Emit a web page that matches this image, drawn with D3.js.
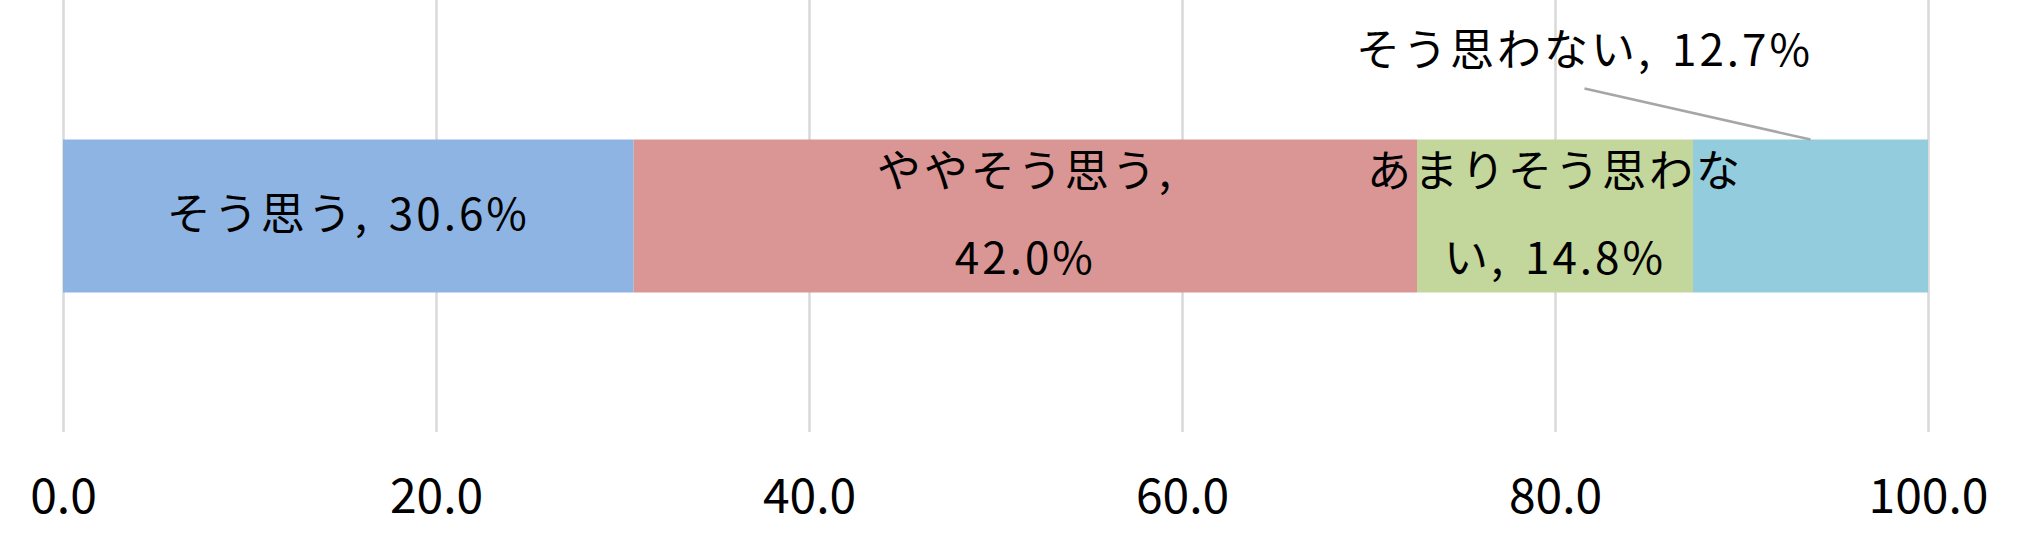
<!DOCTYPE html>
<html>
<head>
<meta charset="utf-8">
<script src="https://cdn.jsdelivr.net/npm/d3@7"></script>
<style>
  body { margin: 0; background: #fff; }
  .axis text { font-family: "Noto Sans CJK JP", "Noto Sans", sans-serif; font-size: 48px; fill: #000; }
  .axis .tick line { stroke: #d9d9d9; stroke-width: 2.5; }
  .label { font-family: "Noto Sans CJK JP", sans-serif; font-size: 44px; letter-spacing: 3px; word-spacing: 6px; fill: #000; }
</style>
</head>
<body>
<div id="chart"></div>
<script>
// **** THE DATA ****
const categories = ["そう思う", "ややそう思う", "あまりそう思わない", "そう思わない"]
const values = [30.6, 42.0, 14.8, 12.7]
const colors = ["#8eb4e3", "#d99694", "#c3d69b", "#93cddd"]
const xTicks = [0, 20, 40, 60, 80, 100]
// last slice is too thin, its label sits above the bar with a leader line
const placement = ["inside", "inside", "inside", "callout"]

// **** THE SETUP ****
const width = 2021
const height = 540
const plot = {left: 63, right: 1928, top: 0, bottom: 432}

const xScale = d3.scaleLinear()
    .domain([0, 100])
    .range([plot.left, plot.right])
    .clamp(true)

// one row, Excel style gap around the bar
const yScale = d3.scaleBand()
    .domain(["row"])
    .range([plot.top, plot.bottom])
    .padding(0.477)

// stack the values
let acc = 0
const segments = values.map((v, i) => {
  const s = {name: categories[i], value: v, x0: acc, x1: acc + v, color: colors[i], place: placement[i]}
  acc += v
  return s
})

const svg = d3.select("#chart").append("svg")
    .attr("width", width)
    .attr("height", height)

// --> GRID + X AXIS
svg.append("g")
    .attr("class", "x axis")
    .attr("transform", "translate(0," + plot.bottom + ")")
    .call(d3.axisBottom(xScale)
      .tickValues(xTicks)
      .tickSize(-(plot.bottom - plot.top))
      .tickPadding(47)
      .tickFormat(d3.format(".1f")))
    .call(g => g.select(".domain").remove())

// --> BARS
const barY = yScale("row")
const barH = yScale.bandwidth()

svg.selectAll(".seg")
    .data(segments)
  .enter().append("rect")
    .attr("class", "seg")
    .attr("x", d => xScale(d.x0))
    .attr("y", barY)
    .attr("width", d => xScale(d.x1) - xScale(d.x0))
    .attr("height", barH)
    .attr("fill", d => d.color)

// --> LABELS
const lineGap = 87
const maxLabelWidth = 400

// greedy wrap: japanese breaks at any char, latin runs stay together
function wrapLines(str) {
  const tokens = str.match(/[0-9.%]+|\s|./g)
  const probe = svg.append("text").attr("class", "label")
  const lines = []
  let cur = ""
  tokens.forEach(t => {
    const test = cur + t
    probe.text(test.trim())
    if (probe.node().getComputedTextLength() > maxLabelWidth && cur.trim() !== "") {
      lines.push(cur.trim())
      cur = t.trim() === "" ? "" : t
    } else {
      cur = test
    }
  })
  if (cur.trim() !== "") lines.push(cur.trim())
  probe.remove()
  return lines
}

const barMid = barY + barH / 2

segments.forEach(d => {
  const text = d.name + ", " + d.value.toFixed(1) + "%"
  const cx = (xScale(d.x0) + xScale(d.x1)) / 2

  if (d.place === "inside") {
    const lines = wrapLines(text)
    const t = svg.append("text")
        .attr("class", "label")
        .attr("text-anchor", "middle")
    lines.forEach((ln, i) => {
      t.append("tspan")
          .attr("x", cx)
          .attr("y", barMid + 14 + (i - (lines.length - 1) / 2) * lineGap)
          .text(ln)
    })
  } else {
    const lx = cx - 226
    const ly = barY - 74
    svg.append("line")
        .attr("x1", lx)
        .attr("y1", ly + 23)
        .attr("x2", cx)
        .attr("y2", barY)
        .attr("stroke", "#a6a6a6")
        .attr("stroke-width", 2.5)
    svg.append("text")
        .attr("class", "label")
        .attr("text-anchor", "middle")
        .attr("x", lx)
        .attr("y", ly)
        .text(text)
  }
})
</script>
</body>
</html>
